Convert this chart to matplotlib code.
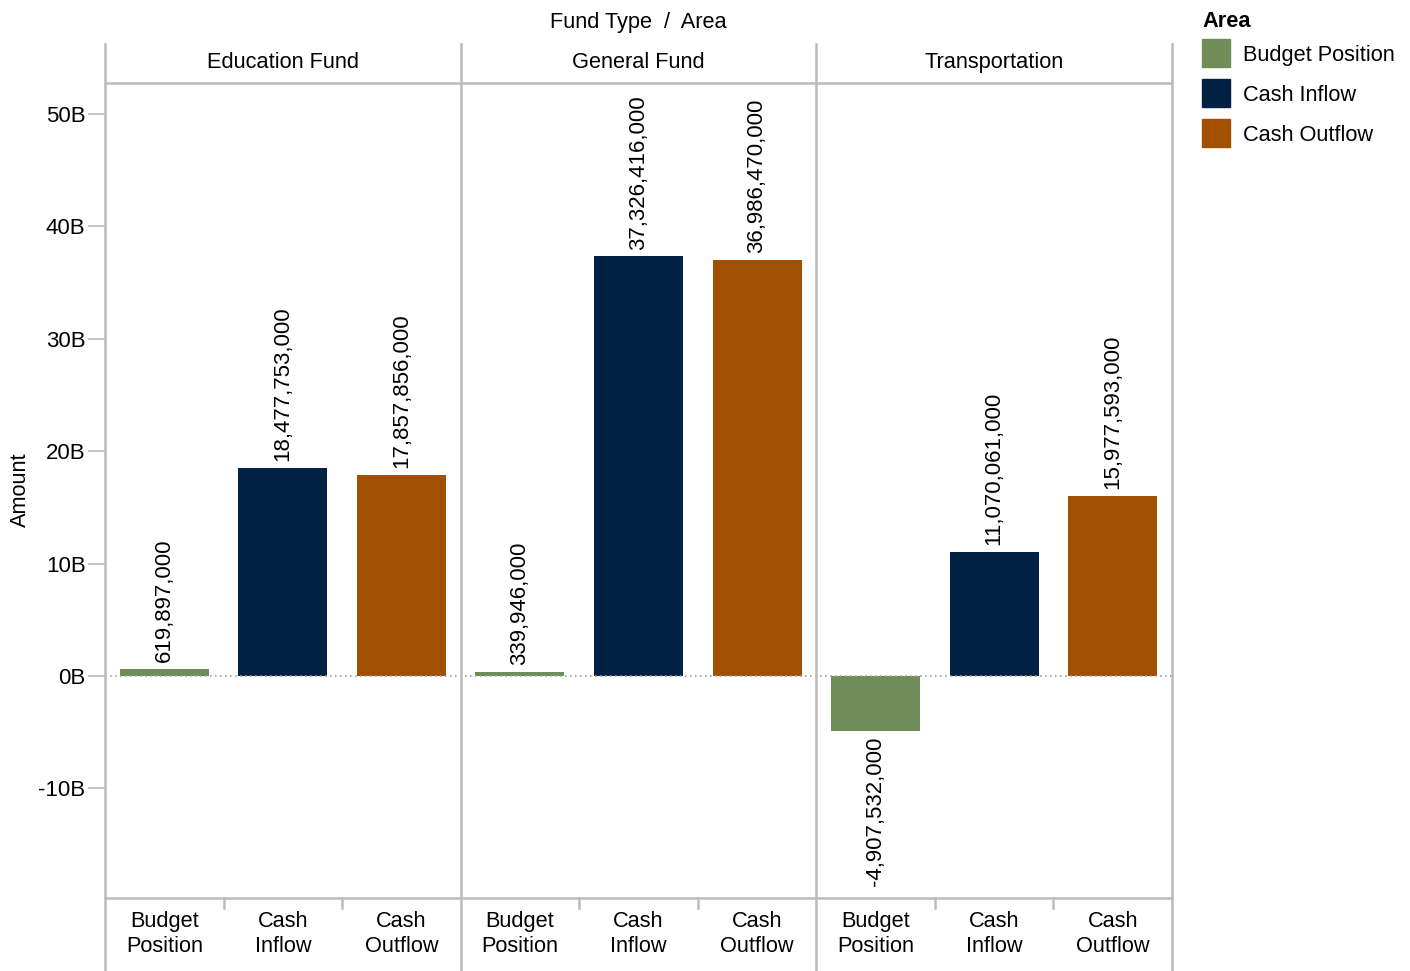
import matplotlib
matplotlib.use("Agg")
import matplotlib.pyplot as plt
from matplotlib.lines import Line2D
from matplotlib.patches import Rectangle
from matplotlib.ticker import FuncFormatter

plt.rcParams['font.family'] = ['Liberation Sans', 'DejaVu Sans']

funds = ['Education Fund', 'General Fund', 'Transportation']
areas = ['Budget Position', 'Cash Inflow', 'Cash Outflow']
area_labels = [('Budget', 'Position'), ('Cash', 'Inflow'), ('Cash', 'Outflow')]
amounts = {
    'Education Fund': [619897000, 18477753000, 17857856000],
    'General Fund': [339946000, 37326416000, 36986470000],
    'Transportation': [-4907532000, 11070061000, 15977593000],
}
colors = ['#708d59', '#022244', '#a14f00']
yticks = [-10e9, 0, 10e9, 20e9, 30e9, 40e9, 50e9]

W, H = 1410, 971
fs = 15.7
fig = plt.figure(figsize=(W / 100, H / 100), dpi=100)

# pixel layout of the panel grid
x0, x1 = 105, 1172
top_line, head_line, foot_line = 44, 83, 898
grid_col = '#bbbbbb'


def fx(px):
    return px / W


def fy(py):
    return 1 - py / H


def label(xp, yp, s, **kw):
    # text placed by its baseline, in pixel coordinates from the top-left
    kw.setdefault('fontsize', fs)
    kw.setdefault('ha', 'center')
    return fig.text(fx(xp), fy(yp), s, va='baseline', **kw)


ax = fig.add_axes([fx(x0), fy(foot_line), fx(x1) - fx(x0), fy(head_line) - fy(foot_line)])
n = len(funds) * len(areas)
ax.set_xlim(-0.5, n - 0.5)
ax.set_ylim(-19.75e9, 52.76e9)

for i, fund in enumerate(funds):
    for j, val in enumerate(amounts[fund]):
        pos = i * len(areas) + j
        ax.bar(pos, val, width=0.75, color=colors[j], zorder=2)
        txt = f'{val:,}'
        if val >= 0:
            ax.annotate(txt, (pos, val), xytext=(0, 5), textcoords='offset points',
                        rotation=90, ha='center', va='bottom', fontsize=16)
        else:
            ax.annotate(txt, (pos, val), xytext=(0, -4), textcoords='offset points',
                        rotation=90, ha='center', va='top', fontsize=16)

ax.axhline(0, color='#a0a0a0', lw=1.2, ls=(0, (1, 2)), zorder=3)

for s in ax.spines.values():
    s.set_visible(False)
ax.set_xticks([])
ax.set_yticks(yticks)
ax.yaxis.set_major_formatter(FuncFormatter(lambda v, p: f'{v / 1e9:.0f}B'))
ax.tick_params(axis='y', length=12, width=1.2, color=grid_col, labelsize=16, pad=2)

fig.text(fx(20), fy(490), 'Amount', rotation=90, ha='center', va='center', fontsize=fs)

# panel frame: vertical dividers, header and footer rules
panel_w = (x1 - x0) / len(funds)
for k in range(len(funds) + 1):
    xp = x0 + k * panel_w
    fig.add_artist(Line2D([fx(xp), fx(xp)], [fy(top_line), 0], color=grid_col, lw=1.8))
for yp in (head_line, foot_line):
    fig.add_artist(Line2D([fx(x0), fx(x1)], [fy(yp), fy(yp)], color=grid_col, lw=1.8))

band = (x1 - x0) / n
for i, fund in enumerate(funds):
    label(x0 + (i + 0.5) * panel_w, 68, fund)
    for j, (l1, l2) in enumerate(area_labels):
        bx = x0 + (i * len(areas) + j + 0.5) * band
        label(bx, 927, l1)
        label(bx, 952, l2)
        if j > 0:
            tx = x0 + (i * len(areas) + j) * band
            fig.add_artist(Line2D([fx(tx), fx(tx)], [fy(foot_line), fy(908)],
                                  color=grid_col, lw=1.8))

label(638, 28, 'Fund Type  /  Area')

# legend
label(1202, 27, 'Area', ha='left', fontweight='bold')
for j, area in enumerate(areas):
    yc = 53 + j * 40
    fig.add_artist(Rectangle((fx(1202), fy(yc + 14)), fx(28), 28 / H,
                             color=colors[j], transform=fig.transFigure))
    label(1243, yc + 8, area, ha='left')

fig.savefig('out.png', dpi=100)
